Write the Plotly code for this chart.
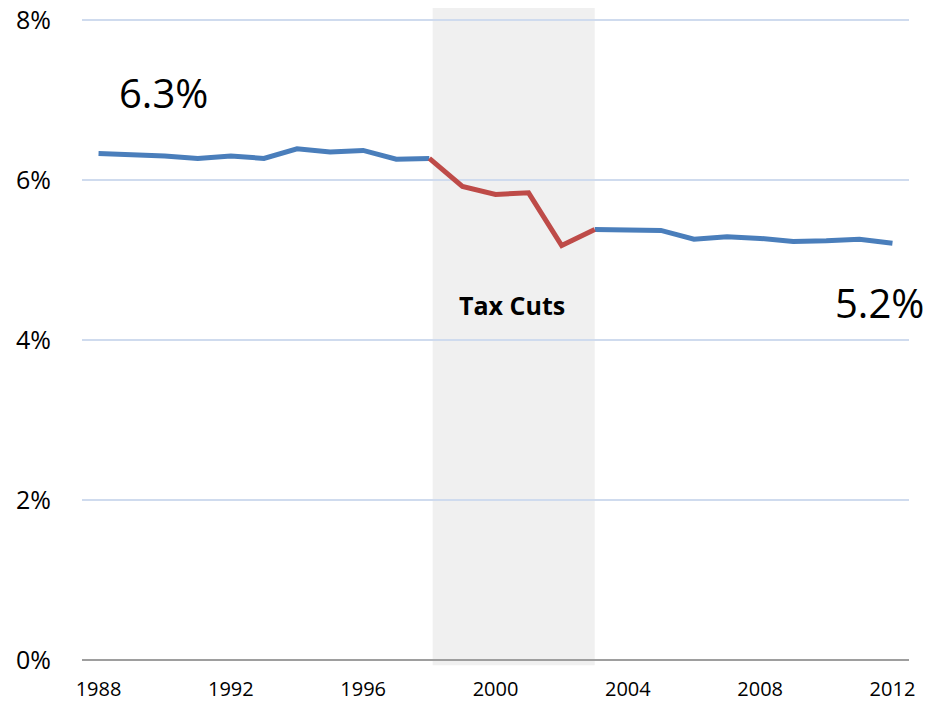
import plotly.graph_objects as go

years = list(range(1988, 2013))
rate = [6.33, 6.32, 6.30, 6.27, 6.30, 6.27, 6.39, 6.35, 6.37, 6.26, 6.27,
        5.92, 5.82, 5.84, 5.18, 5.38,
        5.37, 5.37, 5.26, 5.29, 5.27, 5.23, 5.24, 5.26, 5.21]
tax_cut_start = 1998
tax_cut_end = 2003
y_ticks = [0, 2, 4, 6, 8]
y_tick_labels = ["0%", "2%", "4%", "6%", "8%"]
x_ticks = [1988, 1992, 1996, 2000, 2004, 2008, 2012]

BLUE = "#4A7EBB"
RED = "#BE4B48"
FONT = "Open Sans"

i0 = years.index(tax_cut_start)
i1 = years.index(tax_cut_end)

fig = go.Figure()
fig.add_trace(go.Scatter(x=years[:i0 + 1], y=rate[:i0 + 1], mode="lines",
                         line=dict(color=BLUE, width=5), hoverinfo="skip"))
fig.add_trace(go.Scatter(x=years[i1:], y=rate[i1:], mode="lines",
                         line=dict(color=BLUE, width=5), hoverinfo="skip"))
fig.add_trace(go.Scatter(x=years[i0:i1 + 1], y=rate[i0:i1 + 1], mode="lines",
                         line=dict(color=RED, width=5), hoverinfo="skip"))

fig.add_shape(type="rect", xref="x", yref="paper",
              x0=tax_cut_start + 0.1, x1=tax_cut_end, y0=-0.008, y1=1.0,
              fillcolor="#F0F0F0", line=dict(width=0), layer="below")

fig.add_annotation(x=1989.95, y=7.09, text="6.3%", showarrow=False,
                   font=dict(family=FONT, size=40, color="black"))
fig.add_annotation(x=2011.6, y=4.47, text="5.2%", showarrow=False,
                   font=dict(family=FONT, size=40, color="black"))
fig.add_annotation(x=2000.5, y=4.44, text="<b>Tax Cuts</b>", showarrow=False,
                   font=dict(family=FONT, size=25, color="black"))

fig.update_layout(
    width=935, height=706,
    margin=dict(l=82, r=26, t=8, b=46, autoexpand=False),
    paper_bgcolor="white", plot_bgcolor="white",
    showlegend=False,
    hovermode=False,
    font=dict(family=FONT, color="black"),
)
fig.update_xaxes(range=[1987.5, 2012.5], tickvals=x_ticks,
                 ticktext=[str(v) for v in x_ticks],
                 showgrid=False, zeroline=False, automargin=False,
                 showline=False, ticks="",
                 tickfont=dict(family=FONT, size=20, color="black"),
                 ticklabelstandoff=15)
# range extends a little above 8% so the 8% gridline sits below the shaded band's top
fig.update_yaxes(range=[0, 8.15], tickvals=y_ticks, ticktext=y_tick_labels,
                 showgrid=True, gridcolor="#CFDBEE", gridwidth=1.5,
                 zeroline=True, zerolinecolor="#9E9E9E", zerolinewidth=1.6,
                 showline=False, ticks="", automargin=False,
                 ticklabeloverflow="allow",
                 tickfont=dict(family=FONT, size=25, color="black"),
                 ticklabelstandoff=30)

fig.write_html("out.html",
               config={"displayModeBar": False, "staticPlot": True},
               post_script="document.body.style.margin='0';document.body.style.padding='0';")
